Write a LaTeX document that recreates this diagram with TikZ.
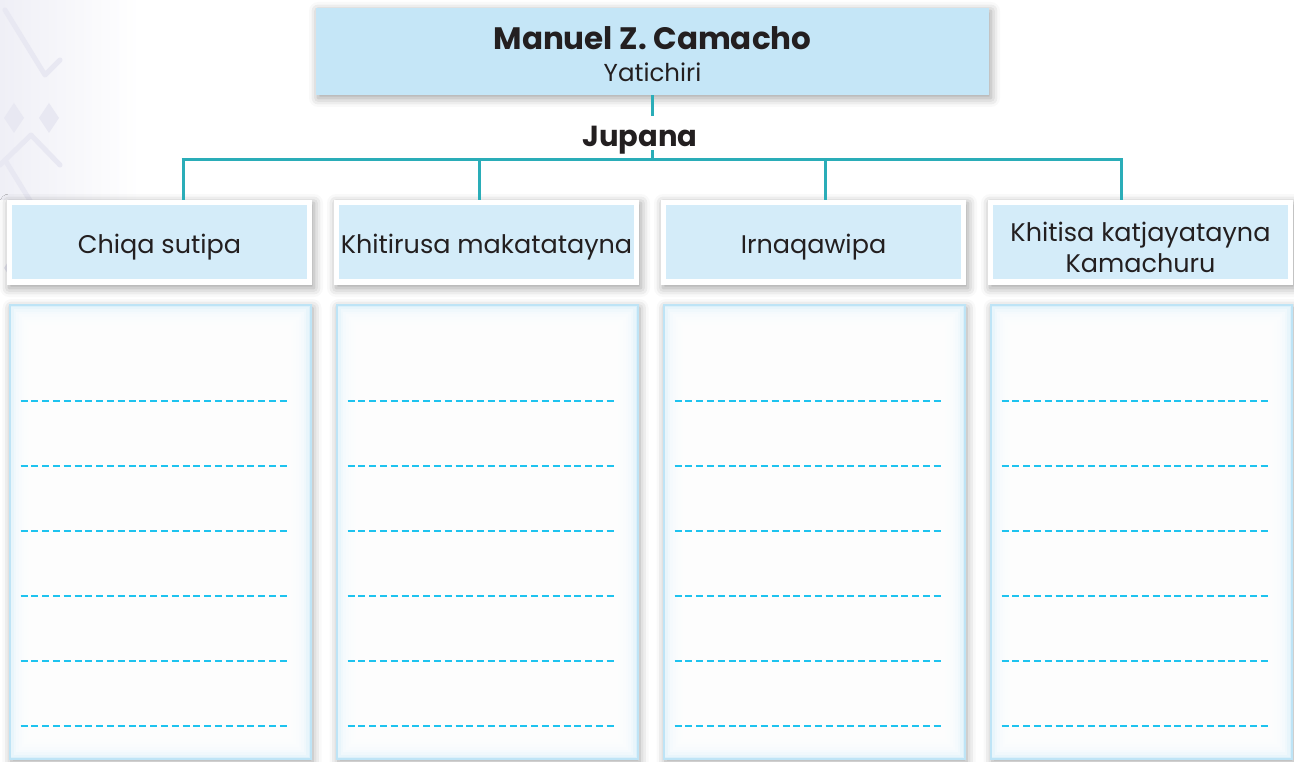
\documentclass[tikz,border=0pt]{standalone}
\usepackage{fontspec}
\setmainfont{Poppins}
\usetikzlibrary{shadows.blur}
\definecolor{topblue}{HTML}{C5E6F7}
\definecolor{headblue}{HTML}{D4ECF9}
\definecolor{linkteal}{HTML}{2AADB8}
\definecolor{ansborder}{HTML}{BEE4F6}
\definecolor{ansglow}{HTML}{DCF0FA}
\definecolor{dashcyan}{HTML}{1EC3EF}
\definecolor{txtdark}{HTML}{231F20}
\definecolor{decor}{HTML}{E8E8F2}
\definecolor{decorbg}{HTML}{EFEFF6}
\tikzset{
  softshadow/.style={blur shadow={shadow xshift=2pt, shadow yshift=-3pt, shadow blur radius=9pt, shadow opacity=38}},
  topbox/.style={fill=topblue, minimum width=673pt, minimum height=87pt, inner sep=0pt, softshadow},
  toptext/.style={align=center, text=txtdark, inner sep=0pt, font=\fontsize{24.5}{32}\selectfont},
  headframe/.style={fill=white, minimum width=305pt, minimum height=85pt, inner sep=0pt, softshadow},
  headinner/.style={fill=headblue, minimum width=295pt, minimum height=74pt, inner sep=0pt},
  headtext/.style={align=center, text=txtdark, inner sep=0pt, font=\fontsize{25.5}{31}\selectfont},
  ansbox/.style={draw=ansborder, line width=2pt, fill=ansglow, minimum width=301pt, minimum height=454pt, inner sep=0pt, softshadow},
  conn/.style={draw=linkteal, line width=3pt},
  dashline/.style={draw=dashcyan, line width=2.4pt, dash pattern=on 7pt off 3.8pt},
  jupana/.style={font=\fontsize{29}{32}\selectfont\bfseries, text=txtdark, inner sep=0pt}
}
\begin{document}
\begin{tikzpicture}[x=1pt,y=-1pt]
\useasboundingbox (0,0) rectangle (1294,762);
% faint left decoration
\shade[left color=decorbg, right color=white] (0,0) rectangle (140,200);
\foreach \yy in {0,150} {
  \draw[decor, line width=5pt, line cap=round, line join=round] (5,\yy+10) -- (45,\yy+75) -- (60,\yy+60);
  \fill[decor] (14,\yy+103) -- (24,\yy+118) -- (14,\yy+133) -- (4,\yy+118) -- cycle;
  \fill[decor] (49,\yy+103) -- (59,\yy+118) -- (49,\yy+133) -- (39,\yy+118) -- cycle;
}
\draw[decor, line width=5pt, line cap=round, line join=round] (0,165) -- (31,135) -- (60,165);
% top box
\node[topbox] (top) at (652.5,51.5) {};
\node[toptext] (tt) at ([yshift=-2.5pt]top.center) {{\fontsize{31}{32}\selectfont\bfseries Manuel Z. Camacho}\\Yatichiri};
\node[jupana] (jup) at (640,140) {Jupana};
\coordinate (jn) at (652.5,160);
\coordinate (bl) at (183,160);
\coordinate (br) at (1121,160);
\draw[conn] (top.south) -- ([yshift=10pt]jup.north -| top.south);
\draw[conn] ([yshift=4pt]jup.south -| jn) -- (jn);
\draw[conn] ([xshift=-1.5pt]bl) -- ([xshift=1.5pt]br);
% columns
\foreach \i/\hx/\cx/\txt in {1/159.5/183/{Chiqa sutipa},2/486.5/479/{Khitirusa makatatayna},3/813.5/825/{Irnaqawipa},4/1140.5/1121/{Khitisa katjayatayna\\Kamachuru}} {
  \node[headframe] (hf\i) at (\hx,242.5) {};
  \node[headinner] (h\i) at (hf\i.center) {};
  \node[headtext] (t\i) at ([yshift=-5pt]h\i.center) {\txt};
  \coordinate (c\i) at (\cx,160);
  \draw[conn] (c\i) -- (c\i |- hf\i.north);
  \node[ansbox] (a\i) at (\hx+0.5,532) {};
  \foreach \k in {1,...,9} {
    \fill[white, opacity=0.35] ([xshift=\k*2.6pt, yshift=-\k*2.6pt]a\i.north west) rectangle ([xshift=-\k*2.6pt, yshift=\k*2.6pt]a\i.south east);
  }
  \foreach \yy in {401,466,531,596,661,726} {
    \draw[dashline] ([xshift=12pt]a\i.west |- 0,\yy) -- ([xshift=-24pt]a\i.east |- 0,\yy);
  }
}
\end{tikzpicture}
\end{document}
